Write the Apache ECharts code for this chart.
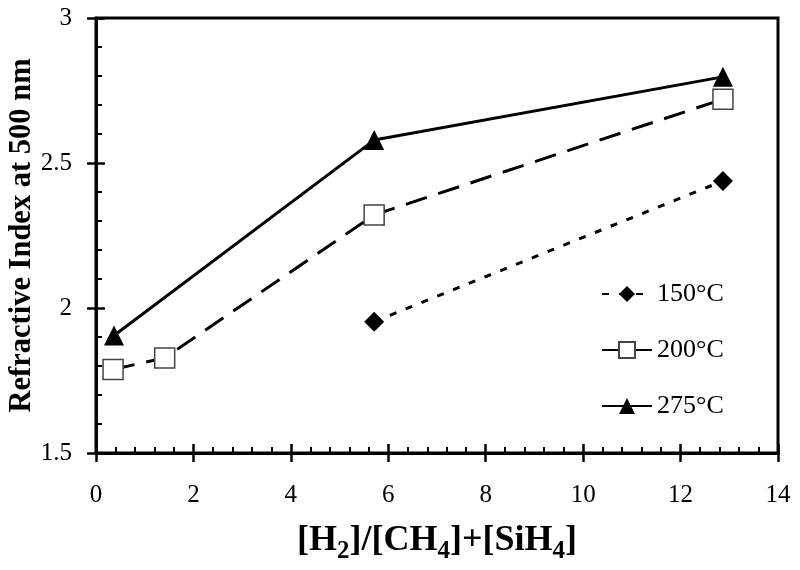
<!DOCTYPE html>
<html><head><meta charset="utf-8">
<script src="https://cdn.jsdelivr.net/npm/echarts@6/dist/echarts.min.js"></script>
<style>html,body{margin:0;padding:0;background:#fff}#c{width:800px;height:570px}</style>
</head><body><div id="c"></div>
<script>
const seriesNames = ['150°C', '200°C', '275°C'];
const x150 = [5.71, 12.87];
const y150 = [1.953, 2.438];
const x200 = [0.35, 1.41, 5.71, 12.87];
const y200 = [1.788, 1.828, 2.321, 2.72];
const x275 = [0.37, 5.71, 12.87];
const y275 = [1.905, 2.579, 2.797];
const yTickLabels = {'1.5': '1.5', '2': '2', '2.5': '2.5', '3': '3'};

const FONT = "'Liberation Serif', 'Times New Roman', serif";
const zip = (xs, ys) => xs.map((x, i) => [x, ys[i]]);

const chart = echarts.init(document.getElementById('c'), null, {renderer: 'canvas'});
const baseX = {type: 'value', min: 0, max: 14, interval: 2, gridIndex: 0, position: 'bottom', splitLine: {show: false}};
const baseY = {type: 'value', min: 1.5, max: 3, interval: 0.5, gridIndex: 0, position: 'left', splitLine: {show: false}};
chart.setOption({
  animation: false,
  backgroundColor: '#fff',
  grid: {left: 96, right: 22, top: 18, bottom: 117, outerBoundsMode: 'none', containLabel: false,
    show: true, borderColor: '#000', borderWidth: 3, backgroundColor: 'transparent'},
  xAxis: [
    Object.assign({}, baseX, {
      name: '{b|[H}{s|2}{b|]/[CH}{s|4}{b|]+[SiH}{s|4}{b|]}',
      nameLocation: 'middle', nameGap: 65, nameMoveOverlap: false,
      nameTextStyle: {rich: {
        b: {fontFamily: FONT, fontWeight: 'bold', fontSize: 36, color: '#000', lineHeight: 46},
        s: {fontFamily: FONT, fontWeight: 'bold', fontSize: 25, color: '#000', lineHeight: 24, verticalAlign: 'bottom'}
      }},
      axisLine: {show: true, onZero: false, lineStyle: {color: '#000', width: 3}},
      axisTick: {show: true, inside: true, length: 9, lineStyle: {color: '#000', width: 2.5}},
      minorTick: {show: true, splitNumber: 5, length: 6, lineStyle: {color: '#000', width: 2}},
      axisLabel: {fontFamily: FONT, fontSize: 25, color: '#000', margin: 30}
    }),
    Object.assign({}, baseX, {
      axisLine: {show: false},
      axisTick: {show: true, inside: false, length: 9, lineStyle: {color: '#000', width: 2.5}},
      axisLabel: {show: false}
    })
  ],
  yAxis: [
    Object.assign({}, baseY, {
      name: 'Refractive Index at 500 nm',
      nameLocation: 'middle', nameGap: 58, nameMoveOverlap: false,
      nameTextStyle: {fontFamily: FONT, fontWeight: 'bold', fontSize: 30.5, color: '#000'},
      axisLine: {show: true, onZero: false, lineStyle: {color: '#000', width: 3}},
      axisTick: {show: true, inside: true, length: 9, lineStyle: {color: '#000', width: 2.5}},
      minorTick: {show: true, splitNumber: 5, length: 6, lineStyle: {color: '#000', width: 2}},
      axisLabel: {fontFamily: FONT, fontSize: 25, color: '#000', margin: 24,
        formatter: v => yTickLabels[String(v)] !== undefined ? yTickLabels[String(v)] : String(v)}
    }),
    Object.assign({}, baseY, {
      axisLine: {show: false},
      axisTick: {show: true, inside: false, length: 9, lineStyle: {color: '#000', width: 2.5}},
      axisLabel: {show: false}
    })
  ],
  legend: {
    orient: 'vertical', left: 596, top: 276, itemWidth: 50, itemHeight: 20, itemGap: 30,
    selectedMode: false,
    textStyle: {fontFamily: FONT, fontSize: 26, color: '#000'},
    data: seriesNames
  },
  series: [
    {name: seriesNames[0], type: 'line', data: zip(x150, y150), symbol: 'diamond', symbolSize: 20,
      lineStyle: {color: '#000', width: 3, type: [7, 10]}, itemStyle: {color: '#000'}, z: 3},
    {name: seriesNames[1], type: 'line', data: zip(x200, y200), symbol: 'rect', symbolSize: 20,
      lineStyle: {color: '#000', width: 3, type: [22, 12]}, itemStyle: {color: '#fff', borderColor: '#444', borderWidth: 1.5}, z: 4},
    {name: seriesNames[2], type: 'line', data: zip(x275, y275), symbol: 'triangle', symbolSize: 20,
      lineStyle: {color: '#000', width: 3, type: 'solid'}, itemStyle: {color: '#000'}, z: 3}
  ]
});
</script></body></html>
